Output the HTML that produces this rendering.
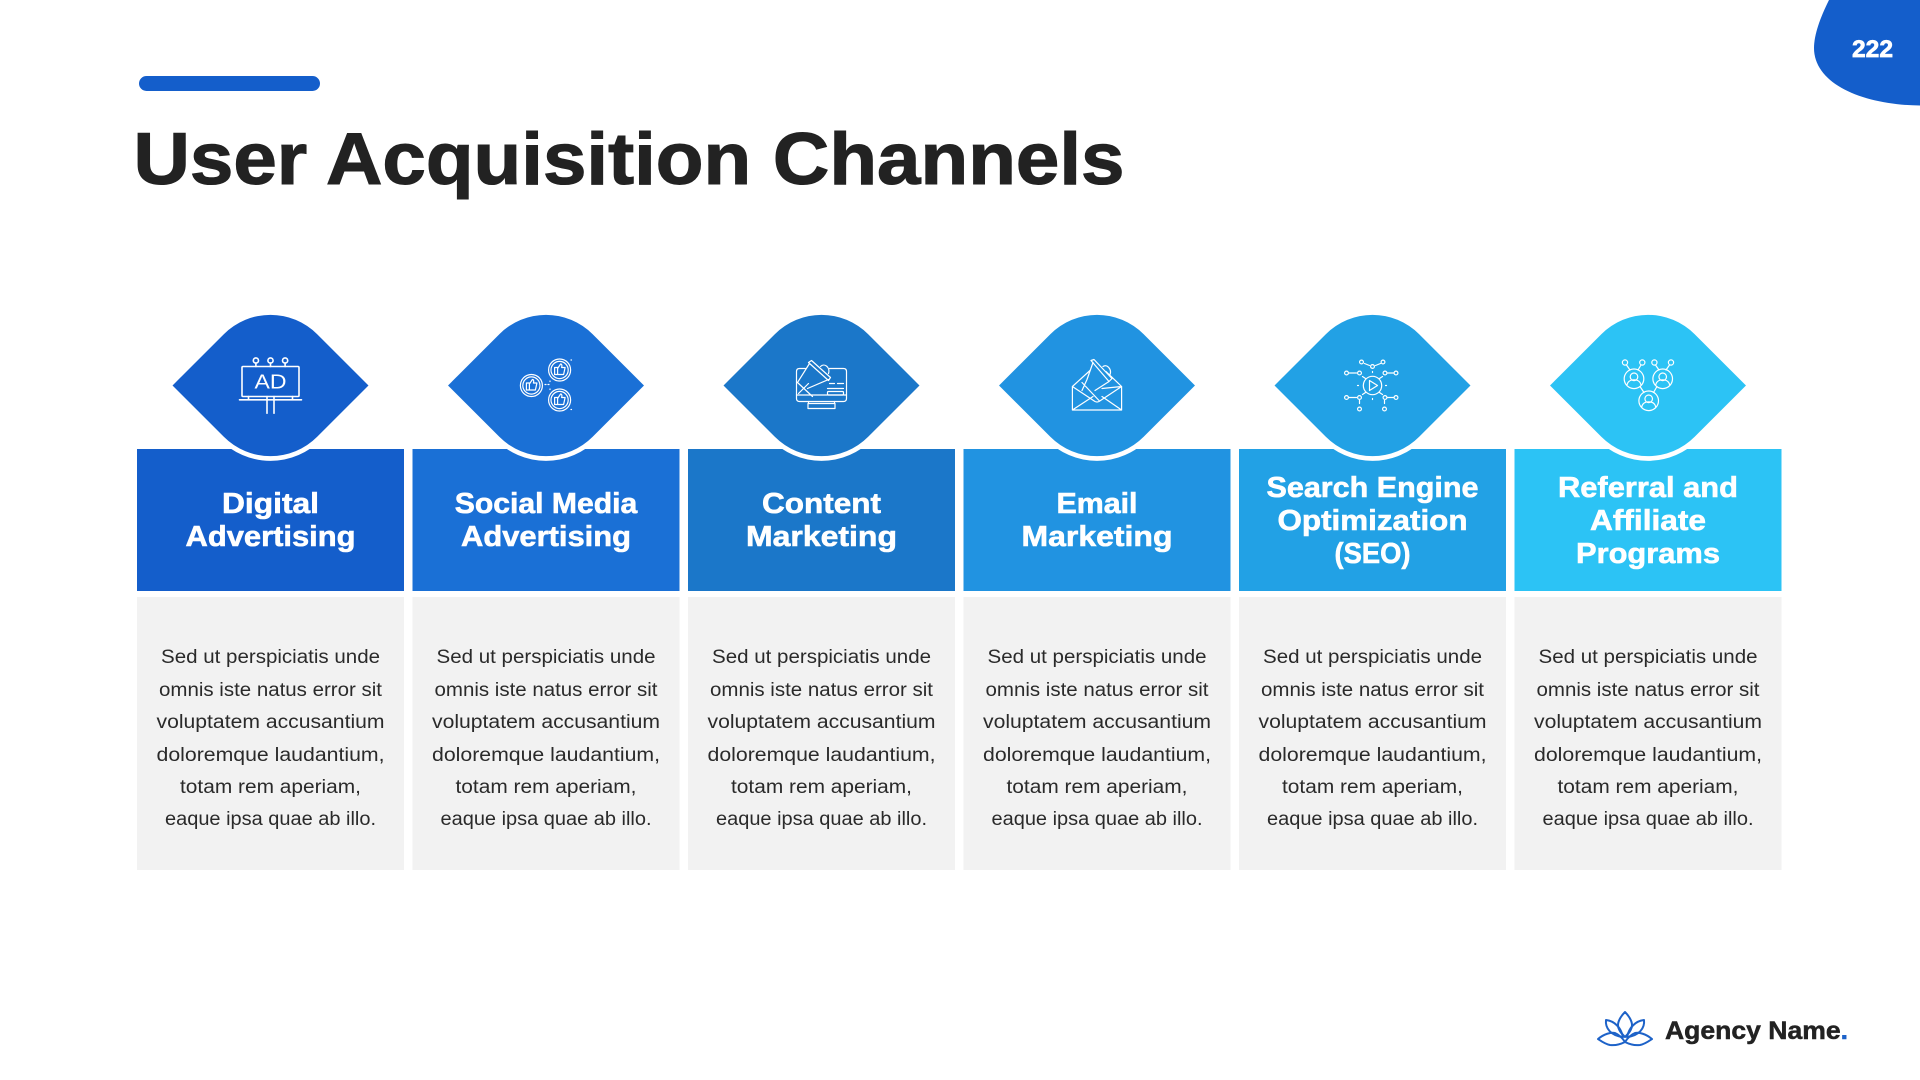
<!DOCTYPE html>
<html>
<head>
<meta charset="utf-8">
<title>User Acquisition Channels</title>
<style>
html,body{margin:0;padding:0;background:#fff;width:1920px;height:1080px;overflow:hidden}
svg{display:block}
text{font-family:"Liberation Sans",sans-serif}
.h{font-size:29px;font-weight:700;fill:#fff;stroke:#fff;stroke-width:.6;text-anchor:middle}
.b{font-size:19px;fill:#2a2a2a;text-anchor:middle}
.i{fill:none;stroke:#fff;stroke-width:1.6;stroke-linejoin:round;stroke-linecap:round}
.t{stroke-width:1.2}
.s{stroke:#fff;stroke-width:9.4;paint-order:stroke;stroke-linejoin:round}
</style>
</head>
<body>
<svg width="1920" height="1080" viewBox="0 0 1920 1080" xmlns="http://www.w3.org/2000/svg">
<rect width="1920" height="1080" fill="#fff"/>
<path d="M1829 0C1820 18 1814 35 1814 48C1814 85 1865 105 1920 105.5L1920 0Z" fill="#145ecb"/>
<text x="1872.5" y="57" font-size="24" font-weight="700" fill="#fff" stroke="#fff" stroke-width=".7" text-anchor="middle" textLength="41" lengthAdjust="spacingAndGlyphs">222</text>
<rect x="139" y="76" width="181" height="15" rx="7.5" fill="#145ecb"/>
<text x="133.5" y="184" font-size="73" font-weight="700" fill="#222" stroke="#222" stroke-width="1.1" textLength="991" lengthAdjust="spacingAndGlyphs">User Acquisition Channels</text>

<!-- column 1 -->
<rect x="137" y="449" width="267" height="142" fill="#145ecb"/>
<rect x="137" y="597" width="267" height="273" fill="#f2f2f2"/>
<g transform="translate(270.5 385.5)">
<path class="s" fill="#145ecb" d="M-98 0L-46.7 -51.3A66 66 0 0 1 46.7 -51.3L98 0L46.7 51.3A66 66 0 0 1 -46.7 51.3Z"/>
<g class="i">
<rect x="-28.5" y="-19" width="57" height="30" rx="1"/>
<circle cx="-14.6" cy="-25" r="2.6"/><circle cx="0" cy="-25" r="2.6"/><circle cx="14.6" cy="-25" r="2.6"/>
<path d="M-14.6 -22.4V-19M0 -22.4V-19M14.6 -22.4V-19M-31 14.3H31M-22 11V14.3M22 11V14.3M-3.5 11V27.7M3.5 11V27.7"/>
</g>
<text x="0" y="3" font-size="20.5" fill="#fff" text-anchor="middle" textLength="32" lengthAdjust="spacingAndGlyphs">AD</text>
</g>
<text class="h" x="270.5" y="513" textLength="97" lengthAdjust="spacingAndGlyphs">Digital</text>
<text class="h" x="270.5" y="546" textLength="170" lengthAdjust="spacingAndGlyphs">Advertising</text>
<g transform="translate(270.5 0)">
<text class="b" y="663" textLength="219" lengthAdjust="spacingAndGlyphs">Sed ut perspiciatis unde</text>
<text class="b" y="696" textLength="223" lengthAdjust="spacingAndGlyphs">omnis iste natus error sit</text>
<text class="b" y="728" textLength="228" lengthAdjust="spacingAndGlyphs">voluptatem accusantium</text>
<text class="b" y="761" textLength="228" lengthAdjust="spacingAndGlyphs">doloremque laudantium,</text>
<text class="b" y="793" textLength="181" lengthAdjust="spacingAndGlyphs">totam rem aperiam,</text>
<text class="b" y="825" textLength="211" lengthAdjust="spacingAndGlyphs">eaque ipsa quae ab illo.</text>
</g>

<!-- column 2 -->
<rect x="412.5" y="449" width="267" height="142" fill="#1a70d6"/>
<rect x="412.5" y="597" width="267" height="273" fill="#f2f2f2"/>
<g transform="translate(546 385.5)">
<path class="s" fill="#1a70d6" d="M-98 0L-46.7 -51.3A66 66 0 0 1 46.7 -51.3L98 0L46.7 51.3A66 66 0 0 1 -46.7 51.3Z"/>
<g class="i t">
<g transform="translate(-14.6 0)"><circle r="11"/><circle r="8.6"/><path d="M-5 -2.5H-2V4.5H-5ZM-2 -1.5L1 -6C2.5 -6 2.5 -4 2 -2.5H5.5L4 4.5H-2"/></g>
<g transform="translate(13.6 -15.5)"><circle r="11"/><circle r="8.6"/><path d="M-5 -2.5H-2V4.5H-5ZM-2 -1.5L1 -6C2.5 -6 2.5 -4 2 -2.5H5.5L4 4.5H-2"/></g>
<g transform="translate(13.6 14.5)"><circle r="11"/><circle r="8.6"/><path d="M-5 -2.5H-2V4.5H-5ZM-2 -1.5L1 -6C2.5 -6 2.5 -4 2 -2.5H5.5L4 4.5H-2"/></g>
<path d="M-1 -1H0M2 -1H3M4 -4V-4.5M4 3.5V4M25 -25.5H25.5M25 24H25.5"/>
</g>
</g>
<text class="h" x="546" y="513" textLength="182.5" lengthAdjust="spacingAndGlyphs">Social Media</text>
<text class="h" x="546" y="546" textLength="170" lengthAdjust="spacingAndGlyphs">Advertising</text>
<g transform="translate(546 0)">
<text class="b" y="663" textLength="219" lengthAdjust="spacingAndGlyphs">Sed ut perspiciatis unde</text>
<text class="b" y="696" textLength="223" lengthAdjust="spacingAndGlyphs">omnis iste natus error sit</text>
<text class="b" y="728" textLength="228" lengthAdjust="spacingAndGlyphs">voluptatem accusantium</text>
<text class="b" y="761" textLength="228" lengthAdjust="spacingAndGlyphs">doloremque laudantium,</text>
<text class="b" y="793" textLength="181" lengthAdjust="spacingAndGlyphs">totam rem aperiam,</text>
<text class="b" y="825" textLength="211" lengthAdjust="spacingAndGlyphs">eaque ipsa quae ab illo.</text>
</g>

<!-- column 3 -->
<rect x="688" y="449" width="267" height="142" fill="#1b77c9"/>
<rect x="688" y="597" width="267" height="273" fill="#f2f2f2"/>
<g transform="translate(821.5 385.5)">
<path class="s" fill="#1b77c9" d="M-98 0L-46.7 -51.3A66 66 0 0 1 46.7 -51.3L98 0L46.7 51.3A66 66 0 0 1 -46.7 51.3Z"/>
<g class="i t">
<path d="M8 -17H22Q25 -17 25 -14V13Q25 16 22 16H-22Q-25 16 -25 13V-14Q-25 -17 -22 -17H-16"/>
<path d="M-25 9.5H25M-13 16V18M13 16V18"/>
<rect x="-13.5" y="18" width="27" height="5"/>
<path d="M-13 -23L-10 -25L9 -8L7 -5ZM-12 -22L-24 -3L-9 11M7 -6L-14 3M-23 8L-13 -2M-1 -19C3 -23 9 -18 7 -12"/>
<path d="M8 -2H13M16 -2H22M6 3H22"/>
<rect x="6" y="6" width="16" height="3.5" rx="1"/>
</g>
</g>
<text class="h" x="821.5" y="513" textLength="119" lengthAdjust="spacingAndGlyphs">Content</text>
<text class="h" x="821.5" y="546" textLength="151" lengthAdjust="spacingAndGlyphs">Marketing</text>
<g transform="translate(821.5 0)">
<text class="b" y="663" textLength="219" lengthAdjust="spacingAndGlyphs">Sed ut perspiciatis unde</text>
<text class="b" y="696" textLength="223" lengthAdjust="spacingAndGlyphs">omnis iste natus error sit</text>
<text class="b" y="728" textLength="228" lengthAdjust="spacingAndGlyphs">voluptatem accusantium</text>
<text class="b" y="761" textLength="228" lengthAdjust="spacingAndGlyphs">doloremque laudantium,</text>
<text class="b" y="793" textLength="181" lengthAdjust="spacingAndGlyphs">totam rem aperiam,</text>
<text class="b" y="825" textLength="211" lengthAdjust="spacingAndGlyphs">eaque ipsa quae ab illo.</text>
</g>

<!-- column 4 -->
<rect x="963.5" y="449" width="267" height="142" fill="#2193e1"/>
<rect x="963.5" y="597" width="267" height="273" fill="#f2f2f2"/>
<g transform="translate(1097 385.5)">
<path class="s" fill="#2193e1" d="M-98 0L-46.7 -51.3A66 66 0 0 1 46.7 -51.3L98 0L46.7 51.3A66 66 0 0 1 -46.7 51.3Z"/>
<g class="i t">
<path d="M-24.6 1V24.5H24.6V1L9 -14M-24.6 1L-7 -15M-24.6 1L-2 16Q0 17 2 16L24.6 1L5 3M-24.6 24.5L-4 11M24.6 24.5L5 11"/>
<path d="M-6 -25L-3 -26L15 -7L12 -4ZM-4 -23L-10 -6L-15 5M-15 -3L2 15M12 -4L-2 5M6 -19C10 -22 15 -16 13 -11"/>
</g>
</g>
<text class="h" x="1097" y="513" textLength="81" lengthAdjust="spacingAndGlyphs">Email</text>
<text class="h" x="1097" y="546" textLength="151" lengthAdjust="spacingAndGlyphs">Marketing</text>
<g transform="translate(1097 0)">
<text class="b" y="663" textLength="219" lengthAdjust="spacingAndGlyphs">Sed ut perspiciatis unde</text>
<text class="b" y="696" textLength="223" lengthAdjust="spacingAndGlyphs">omnis iste natus error sit</text>
<text class="b" y="728" textLength="228" lengthAdjust="spacingAndGlyphs">voluptatem accusantium</text>
<text class="b" y="761" textLength="228" lengthAdjust="spacingAndGlyphs">doloremque laudantium,</text>
<text class="b" y="793" textLength="181" lengthAdjust="spacingAndGlyphs">totam rem aperiam,</text>
<text class="b" y="825" textLength="211" lengthAdjust="spacingAndGlyphs">eaque ipsa quae ab illo.</text>
</g>

<!-- column 5 -->
<rect x="1239" y="449" width="267" height="142" fill="#22a1e5"/>
<rect x="1239" y="597" width="267" height="273" fill="#f2f2f2"/>
<g transform="translate(1372.5 385.5)">
<path class="s" fill="#22a1e5" d="M-98 0L-46.7 -51.3A66 66 0 0 1 46.7 -51.3L98 0L46.7 51.3A66 66 0 0 1 -46.7 51.3Z"/>
<g class="i t">
<circle r="9.2"/><path d="M-3 -5L5 0L-3 5Z"/>
<circle cx="-11" cy="-23.5" r="1.9"/><circle cx="0" cy="-19" r="1.9"/><circle cx="10.5" cy="-23.5" r="1.9"/>
<circle cx="-26" cy="-12.5" r="1.9"/><circle cx="-13" cy="-12.5" r="1.9"/><circle cx="12.5" cy="-12.5" r="1.9"/><circle cx="23.5" cy="-12.5" r="1.9"/>
<circle cx="-26" cy="12" r="1.9"/><circle cx="-13" cy="12" r="1.9"/><circle cx="12.5" cy="12" r="1.9"/><circle cx="23.5" cy="12" r="1.9"/>
<circle cx="-13" cy="23.5" r="1.9"/><circle cx="12" cy="23.5" r="1.9"/>
<path d="M-8 -22L-3 -20M3 -20L8 -22M-23.5 -12.5H-16M15 -12.5H21M-23.5 12H-16M15 12H21M-13 15V18M12 15V18M-10 -9L-7 -7M10 -9L7 -7M-10 9L-7 7M10 9L7 7M-15 0H-14M13 0H14M0 13V14M0 -13V-14"/>
</g>
</g>
<text class="h" x="1372.5" y="497" textLength="212" lengthAdjust="spacingAndGlyphs">Search Engine</text>
<text class="h" x="1372.5" y="530" textLength="190" lengthAdjust="spacingAndGlyphs">Optimization</text>
<text class="h" x="1372.5" y="563" textLength="76" lengthAdjust="spacingAndGlyphs">(SEO)</text>
<g transform="translate(1372.5 0)">
<text class="b" y="663" textLength="219" lengthAdjust="spacingAndGlyphs">Sed ut perspiciatis unde</text>
<text class="b" y="696" textLength="223" lengthAdjust="spacingAndGlyphs">omnis iste natus error sit</text>
<text class="b" y="728" textLength="228" lengthAdjust="spacingAndGlyphs">voluptatem accusantium</text>
<text class="b" y="761" textLength="228" lengthAdjust="spacingAndGlyphs">doloremque laudantium,</text>
<text class="b" y="793" textLength="181" lengthAdjust="spacingAndGlyphs">totam rem aperiam,</text>
<text class="b" y="825" textLength="211" lengthAdjust="spacingAndGlyphs">eaque ipsa quae ab illo.</text>
</g>

<!-- column 6 -->
<rect x="1514.5" y="449" width="267" height="142" fill="#2cc3f5"/>
<rect x="1514.5" y="597" width="267" height="273" fill="#f2f2f2"/>
<g transform="translate(1648 385.5)">
<path class="s" fill="#2cc3f5" d="M-98 0L-46.7 -51.3A66 66 0 0 1 46.7 -51.3L98 0L46.7 51.3A66 66 0 0 1 -46.7 51.3Z"/>
<g class="i t">
<g transform="translate(-14 -6.7)"><circle r="9.8"/><circle cy="-2" r="3.8"/><path d="M-7 6C-6 2 -3 1 0 1C3 1 6 2 7 6"/></g>
<g transform="translate(14.7 -6.7)"><circle r="9.8"/><circle cy="-2" r="3.8"/><path d="M-7 6C-6 2 -3 1 0 1C3 1 6 2 7 6"/></g>
<g transform="translate(0.7 15.3)"><circle r="9.8"/><circle cy="-2" r="3.8"/><path d="M-7 6C-6 2 -3 1 0 1C3 1 6 2 7 6"/></g>
<circle cx="-23" cy="-23" r="2.6"/><circle cx="-5.7" cy="-23" r="2.6"/><circle cx="6.4" cy="-23" r="2.6"/><circle cx="23" cy="-23" r="2.6"/>
<path d="M-21.5 -20.5L-18 -15.5M-7 -20.5L-10 -15.5M7.5 -20.5L11 -15.5M21.5 -20.5L18 -15.5M-8 1L-4 7M9 1L5.5 7"/>
</g>
</g>
<text class="h" x="1648" y="497" textLength="180" lengthAdjust="spacingAndGlyphs">Referral and</text>
<text class="h" x="1648" y="530" textLength="116" lengthAdjust="spacingAndGlyphs">Affiliate</text>
<text class="h" x="1648" y="563" textLength="144" lengthAdjust="spacingAndGlyphs">Programs</text>
<g transform="translate(1648 0)">
<text class="b" y="663" textLength="219" lengthAdjust="spacingAndGlyphs">Sed ut perspiciatis unde</text>
<text class="b" y="696" textLength="223" lengthAdjust="spacingAndGlyphs">omnis iste natus error sit</text>
<text class="b" y="728" textLength="228" lengthAdjust="spacingAndGlyphs">voluptatem accusantium</text>
<text class="b" y="761" textLength="228" lengthAdjust="spacingAndGlyphs">doloremque laudantium,</text>
<text class="b" y="793" textLength="181" lengthAdjust="spacingAndGlyphs">totam rem aperiam,</text>
<text class="b" y="825" textLength="211" lengthAdjust="spacingAndGlyphs">eaque ipsa quae ab illo.</text>
</g>

<!-- logo -->
<g fill="none" stroke="#1d62c8" stroke-width="2" stroke-linejoin="round">
<path d="M1625 1012C1620 1017 1618 1022 1618 1025C1618 1030 1622 1034 1625 1037C1628 1034 1632 1030 1632 1025C1632 1022 1630 1017 1625 1012Z"/>
<path d="M1606 1020C1605 1028 1611 1036 1623 1037C1621 1028 1615 1021 1606 1020Z"/>
<path d="M1644 1020C1645 1028 1639 1036 1627 1037C1629 1028 1635 1021 1644 1020Z"/>
<path d="M1598 1039C1604 1034 1611 1032 1615 1033C1620 1035 1623 1039 1625 1042C1619 1045 1614 1045.500 1610 1045C1605 1044 1601 1041 1598 1039Z"/>
<path d="M1652 1039C1646 1034 1639 1032 1635 1033C1630 1035 1627 1039 1625 1042C1631 1045 1636 1045.500 1640 1045C1645 1044 1649 1041 1652 1039Z"/>
</g>
<text x="1665" y="1039" font-size="25" font-weight="700" fill="#222" stroke="#222" stroke-width=".5" textLength="183" lengthAdjust="spacingAndGlyphs">Agency Name<tspan fill="#1d62c8" stroke="#1d62c8">.</tspan></text>
</svg>
</body>
</html>
